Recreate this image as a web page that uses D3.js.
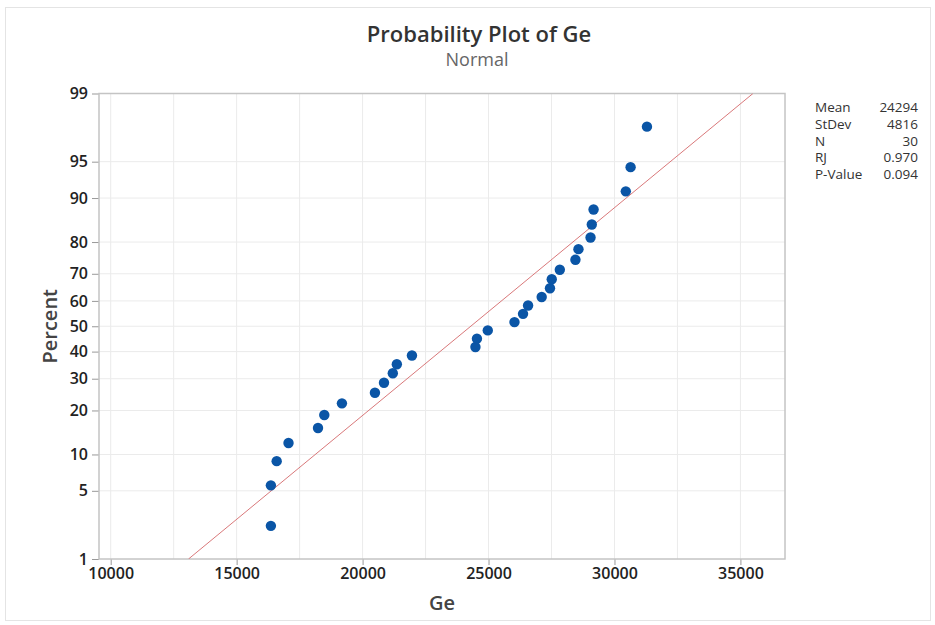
<!DOCTYPE html>
<html>
<head>
<meta charset="utf-8">
<script src="https://cdn.jsdelivr.net/npm/d3@7"></script>
<style>
  body { margin: 0; background: #fff; }
  #main { width: 935px; height: 625px; }
  text { font-family: "Open Sans", "Noto Sans", sans-serif; }
</style>
</head>
<body>
<div id="main"></div>
<script>
// Ge values (sorted)
const geValues = [16360, 16360, 16590, 17060, 18230, 18480, 19180, 20490, 20850, 21200,
                  21360, 21960, 24480, 24540, 24970, 26030, 26370, 26570, 27110, 27440,
                  27510, 27830, 28450, 28570, 29050, 29100, 29170, 30450, 30640, 31290];
const percentTicks = [1, 5, 10, 20, 30, 40, 50, 60, 70, 80, 90, 95, 99];
const xTicks = [10000, 15000, 20000, 25000, 30000, 35000];
const xGrid = [10000, 12500, 15000, 17500, 20000, 22500, 25000, 27500, 30000, 32500, 35000];
const statLabels = ["Mean", "StDev", "N", "RJ", "P-Value"];
const statValues = ["24294", "4816", "30", "0.970", "0.094"];
const mean = 24294, stdev = 4816;

// inverse normal CDF (Acklam)
function qnorm(p) {
    const a = [-39.69683028665376, 220.9460984245205, -275.9285104469687, 138.3577518672690, -30.66479806614716, 2.506628277459239];
    const b = [-54.47609879822406, 161.5858368580409, -155.6989798598866, 66.80131188771972, -13.28068155288572];
    const c = [-0.007784894002430293, -0.3223964580411365, -2.400758277161838, -2.549732539343734, 4.374664141464968, 2.938163982698783];
    const d = [0.007784695709041462, 0.3224671290700398, 2.445134137142996, 3.754408661907416];
    const pl = 0.02425;
    let q, r;
    if (p < pl) {
        q = Math.sqrt(-2 * Math.log(p));
        return (((((c[0]*q+c[1])*q+c[2])*q+c[3])*q+c[4])*q+c[5]) / ((((d[0]*q+d[1])*q+d[2])*q+d[3])*q+1);
    } else if (p <= 1 - pl) {
        q = p - 0.5; r = q * q;
        return (((((a[0]*r+a[1])*r+a[2])*r+a[3])*r+a[4])*r+a[5])*q / (((((b[0]*r+b[1])*r+b[2])*r+b[3])*r+b[4])*r+1);
    } else {
        q = Math.sqrt(-2 * Math.log(1 - p));
        return -(((((c[0]*q+c[1])*q+c[2])*q+c[3])*q+c[4])*q+c[5]) / ((((d[0]*q+d[1])*q+d[2])*q+d[3])*q+1);
    }
}

function createChart() {
    const width = 935, height = 625;
    const left = 99, right = 785, top = 93.5, bottom = 559;

    const svg = d3.select("#main").append("svg")
        .attr("width", width)
        .attr("height", height);

    // outer border
    svg.append("rect")
        .attr("x", 5.5).attr("y", 7.5)
        .attr("width", 925).attr("height", 613)
        .attr("fill", "none").attr("stroke", "#e4e4e4");

    const x = d3.scaleLinear().domain([9536, 36770]).range([left, right]);
    const y = d3.scaleLinear().domain([qnorm(0.01), qnorm(0.99)]).range([bottom, top]);

    // gridlines
    svg.append("g").selectAll("line")
        .data(xGrid).enter().append("line")
        .attr("x1", d => x(d)).attr("x2", d => x(d))
        .attr("y1", top).attr("y2", bottom)
        .attr("stroke", "#ebebeb").attr("stroke-width", 1);
    svg.append("g").selectAll("line")
        .data(percentTicks.slice(1, -1)).enter().append("line")
        .attr("x1", left).attr("x2", right)
        .attr("y1", d => y(qnorm(d / 100))).attr("y2", d => y(qnorm(d / 100)))
        .attr("stroke", "#ebebeb").attr("stroke-width", 1);

    // axes
    const xAxis = d3.axisBottom(x).tickValues(xTicks).tickSize(6).tickPadding(3).tickFormat(d3.format("d"));
    const gx = svg.append("g").attr("transform", `translate(0,${bottom})`).call(xAxis);
    gx.select(".domain").remove();
    gx.selectAll(".tick line").attr("stroke", "#999");
    gx.selectAll(".tick text").attr("fill", "#222").style("font-size", "16px").style("font-weight", 600);

    const yAxis = d3.axisLeft(y)
        .tickValues(percentTicks.map(p => qnorm(p / 100)))
        .tickSize(7).tickPadding(4)
        .tickFormat((d, i) => percentTicks[i]);
    const gy = svg.append("g").attr("transform", `translate(${left},0)`).call(yAxis);
    gy.select(".domain").remove();
    gy.selectAll(".tick line").attr("stroke", "#999");
    gy.selectAll(".tick text").attr("fill", "#222").style("font-size", "16px").style("font-weight", 600);

    // frame
    svg.append("rect")
        .attr("x", left).attr("y", top)
        .attr("width", right - left).attr("height", bottom - top)
        .attr("fill", "none").attr("stroke", "#c4c4c4").attr("stroke-width", 1.5);

    // fitted line
    svg.append("clipPath").attr("id", "plotclip")
        .append("rect").attr("x", left).attr("y", top)
        .attr("width", right - left).attr("height", bottom - top);
    const zEnds = [qnorm(0.01), qnorm(0.99)];
    svg.append("line")
        .attr("clip-path", "url(#plotclip)")
        .attr("x1", x(mean + zEnds[0] * stdev)).attr("y1", y(zEnds[0]))
        .attr("x2", x(mean + zEnds[1] * stdev)).attr("y2", y(zEnds[1]))
        .attr("stroke", "#d9787a").attr("stroke-width", 1);

    // points (median ranks)
    const n = geValues.length;
    svg.append("g").selectAll("circle")
        .data(geValues).enter().append("circle")
        .attr("cx", d => x(d))
        .attr("cy", (d, i) => y(qnorm((i + 1 - 0.3) / (n + 0.4))))
        .attr("r", 5.2)
        .attr("fill", "#0a55a6");

    // titles
    svg.append("text").attr("x", 479).attr("y", 42)
        .attr("text-anchor", "middle").attr("fill", "#333")
        .style("font-size", "22px").style("font-weight", 600)
        .text("Probability Plot of Ge");
    svg.append("text").attr("x", 477).attr("y", 66)
        .attr("text-anchor", "middle").attr("fill", "#666")
        .style("font-size", "18px")
        .text("Normal");

    svg.append("text").attr("x", (left + right) / 2).attr("y", 610)
        .attr("text-anchor", "middle").attr("fill", "#444")
        .style("font-size", "20px").style("font-weight", 600)
        .text("Ge");
    svg.append("text")
        .attr("transform", `translate(57,${(top + bottom) / 2}) rotate(-90)`)
        .attr("text-anchor", "middle").attr("fill", "#444")
        .style("font-size", "20px").style("font-weight", 600)
        .text("Percent");

    // stats table
    const stats = svg.append("g").style("font-size", "13.5px").attr("fill", "#333");
    stats.selectAll(".lab").data(statLabels).enter().append("text")
        .attr("x", 815).attr("y", (d, i) => 112 + i * 16.8)
        .text(d => d);
    stats.selectAll(".val").data(statValues).enter().append("text")
        .attr("x", 918).attr("y", (d, i) => 112 + i * 16.8)
        .attr("text-anchor", "end")
        .text(d => d);
}

document.addEventListener("DOMContentLoaded", createChart);
</script>
</body>
</html>
